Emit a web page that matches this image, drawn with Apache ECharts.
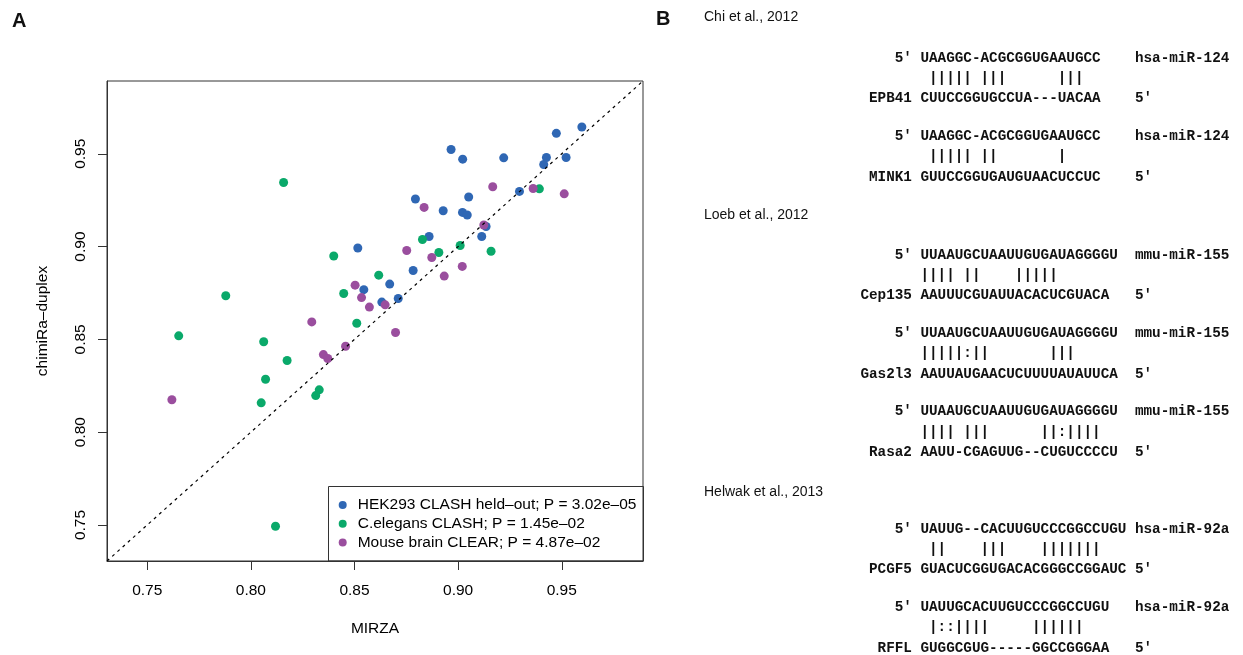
<!DOCTYPE html>
<html><head><meta charset="utf-8">
<script src="https://cdn.jsdelivr.net/npm/echarts@6/dist/echarts.min.js"></script>
<style>html,body{margin:0;padding:0;background:#fff}#c{width:1243px;height:655px}</style>
</head><body><div id="c"></div>
<script>
// ---------- data ----------
const axisMin = 0.7306, axisMax = 0.9892;
const tickValues = [0.75, 0.80, 0.85, 0.90, 0.95];
const tickLabels = ['0.75', '0.80', '0.85', '0.90', '0.95'];
const seriesNames = [
  'HEK293 CLASH held–out; P = 3.02e–05',
  'C.elegans CLASH; P = 1.45e–02',
  'Mouse brain CLEAR; P = 4.87e–02'
];
const seriesColors = ['#2F67B4', '#0AA96A', '#9A4E9E'];
const hekData = [
  [0.8516,0.8992],[0.8545,0.8768],[0.9597,0.9644],[0.9474,0.9610],[0.8966,0.9523],
  [0.9022,0.9471],[0.9220,0.9478],[0.9426,0.9480],[0.9521,0.9480],[0.9413,0.9442],
  [0.9296,0.9297],[0.8794,0.9256],[0.9051,0.9267],[0.8928,0.9193],[0.9021,0.9184],
  [0.9044,0.9170],[0.9135,0.9108],[0.9114,0.9054],[0.8860,0.9054],[0.8783,0.8871],
  [0.8670,0.8798],[0.8711,0.8720],[0.8632,0.8701]
];
const celegansData = [
  [0.8158,0.9345],[0.8400,0.8949],[0.8448,0.8747],[0.7879,0.8735],[0.8511,0.8587],
  [0.7652,0.8519],[0.8062,0.8487],[0.8175,0.8386],[0.8071,0.8285],[0.8330,0.8228],
  [0.8313,0.8197],[0.8050,0.8158],[0.8119,0.7493],[0.9392,0.9311],[0.8828,0.9038],
  [0.9010,0.9006],[0.9159,0.8975],[0.8907,0.8968],[0.8617,0.8846]
];
const mouseData = [
  [0.8503,0.8792],[0.8534,0.8725],[0.8572,0.8674],[0.8294,0.8594],[0.8457,0.8463],
  [0.8350,0.8418],[0.8371,0.8397],[0.7619,0.8175],[0.9167,0.9322],[0.9362,0.9313],
  [0.9512,0.9284],[0.8836,0.9211],[0.9124,0.9116],[0.8752,0.8979],[0.8873,0.8941],
  [0.9020,0.8893],[0.8933,0.8841],[0.8648,0.8686],[0.8698,0.8537]
];
const diagonal = [[axisMin, axisMin], [axisMax, axisMax]];

// panel B texts
const studyTitles = ['Chi et al., 2012', 'Loeb et al., 2012', 'Helwak et al., 2013'];
const alignBlocks = [
  ["    5' UAAGGC-ACGCGGUGAAUGCC    hsa-miR-124",
   "        ||||| |||      |||",
   " EPB41 CUUCCGGUGCCUA---UACAA    5'"],
  ["    5' UAAGGC-ACGCGGUGAAUGCC    hsa-miR-124",
   "        ||||| ||       |",
   " MINK1 GUUCCGGUGAUGUAACUCCUC    5'"],
  ["    5' UUAAUGCUAAUUGUGAUAGGGGU  mmu-miR-155",
   "       |||| ||    |||||",
   "Cep135 AAUUUCGUAUUACACUCGUACA   5'"],
  ["    5' UUAAUGCUAAUUGUGAUAGGGGU  mmu-miR-155",
   "       |||||:||       |||",
   "Gas2l3 AAUUAUGAACUCUUUUAUAUUCA  5'"],
  ["    5' UUAAUGCUAAUUGUGAUAGGGGU  mmu-miR-155",
   "       |||| |||      ||:||||",
   " Rasa2 AAUU-CGAGUUG--CUGUCCCCU  5'"],
  ["    5' UAUUG--CACUUGUCCCGGCCUGU hsa-miR-92a",
   "        ||    |||    |||||||",
   " PCGF5 GUACUCGGUGACACGGGCCGGAUC 5'"],
  ["    5' UAUUGCACUUGUCCCGGCCUGU   hsa-miR-92a",
   "        |::||||     ||||||",
   "  RFFL GUGGCGUG-----GGCCGGGAA   5'"]
];
const blockStudy = [0, 0, 1, 1, 1, 2, 2];

// ---------- layout ----------
const SANS = 'Liberation Sans, Arial, sans-serif';
const MONO = 'Liberation Mono, Courier New, monospace';
const FS = 15.5;
const monoSize = 14.3;
const monoLeft = 860.4;
const titleY = [17, 215, 491.7];
const firstBlockY = [58, 255, 529];
const blockStep = 78.3, lineStep = 20.3;

const graphics = [];
graphics.push({type:'text', x:12, y:21, style:{text:'A', font:'bold 20px ' + SANS, fill:'#111', align:'left', verticalAlign:'middle'}});
graphics.push({type:'text', x:656, y:19, style:{text:'B', font:'bold 20px ' + SANS, fill:'#111', align:'left', verticalAlign:'middle'}});
studyTitles.forEach((t, i) => {
  graphics.push({type:'text', x:704, y:titleY[i], style:{text:t, font:'14px ' + SANS, fill:'#111', align:'left', verticalAlign:'middle'}});
});
const counters = [0, 0, 0];
alignBlocks.forEach((blk, b) => {
  const s = blockStudy[b];
  const by = firstBlockY[s] + counters[s] * blockStep;
  counters[s]++;
  blk.forEach((line, i) => {
    graphics.push({type:'text', x:monoLeft, y:by + i * lineStep,
      style:{text:line, font:'bold ' + monoSize + 'px ' + MONO, fill:'#111', align:'left', verticalAlign:'middle'}});
  });
});
// legend frame
graphics.push({type:'rect', shape:{x:328.5, y:486.5, width:315, height:74.5}, style:{fill:'none', stroke:'#333', lineWidth:1}, z:10});

const chart = echarts.init(document.getElementById('c'), null, {renderer:'canvas'});
const axisCommon = {
  type:'value', min:axisMin, max:axisMax, nameLocation:'middle',
  nameTextStyle:{fontFamily:SANS, fontSize:FS, color:'#000'},
  axisLine:{show:true, lineStyle:{color:'#333', width:1}},
  axisTick:{show:true, length:9, customValues:tickValues, lineStyle:{color:'#333', width:1}},
  splitLine:{show:false}
};
const fmt = v => tickLabels[tickValues.findIndex(t => Math.abs(t - v) < 1e-9)] || v.toFixed(2);
chart.setOption({
  animation:false,
  backgroundColor:'#fff',
  grid:{left:107, top:81, width:536, height:480, show:true, borderColor:'#333', borderWidth:1},
  xAxis:Object.assign({}, axisCommon, {
    name:'MIRZA', nameGap:60,
    axisLabel:{customValues:tickValues, formatter:fmt, margin:22, fontFamily:SANS, fontSize:FS, color:'#000'}
  }),
  yAxis:Object.assign({}, axisCommon, {
    name:'chimiRa–duplex', nameGap:56,
    axisLabel:{customValues:tickValues, formatter:fmt, margin:18, rotate:90, fontFamily:SANS, fontSize:FS, color:'#000'}
  }),
  legend:{
    data:seriesNames, orient:'vertical', left:338.7, top:495.6, padding:0,
    icon:'circle', itemWidth:8, itemHeight:8, itemGap:0, selectedMode:false,
    textStyle:{fontFamily:SANS, fontSize:FS, color:'#000', lineHeight:18.8, padding:[0,0,0,6]}
  },
  series:[
    {name:seriesNames[0], type:'scatter', data:hekData, symbolSize:9, itemStyle:{color:seriesColors[0], opacity:1}, emphasis:{disabled:true}, z:2},
    {name:seriesNames[1], type:'scatter', data:celegansData, symbolSize:9, itemStyle:{color:seriesColors[1], opacity:1}, emphasis:{disabled:true}, z:2},
    {name:seriesNames[2], type:'scatter', data:mouseData, symbolSize:9, itemStyle:{color:seriesColors[2], opacity:1}, emphasis:{disabled:true}, z:2},
    {name:'diag', type:'line', data:diagonal, symbol:'none', silent:true, z:3,
     lineStyle:{color:'#000', width:1.2, type:[3,4]}}
  ],
  graphic:graphics
});
</script></body></html>
